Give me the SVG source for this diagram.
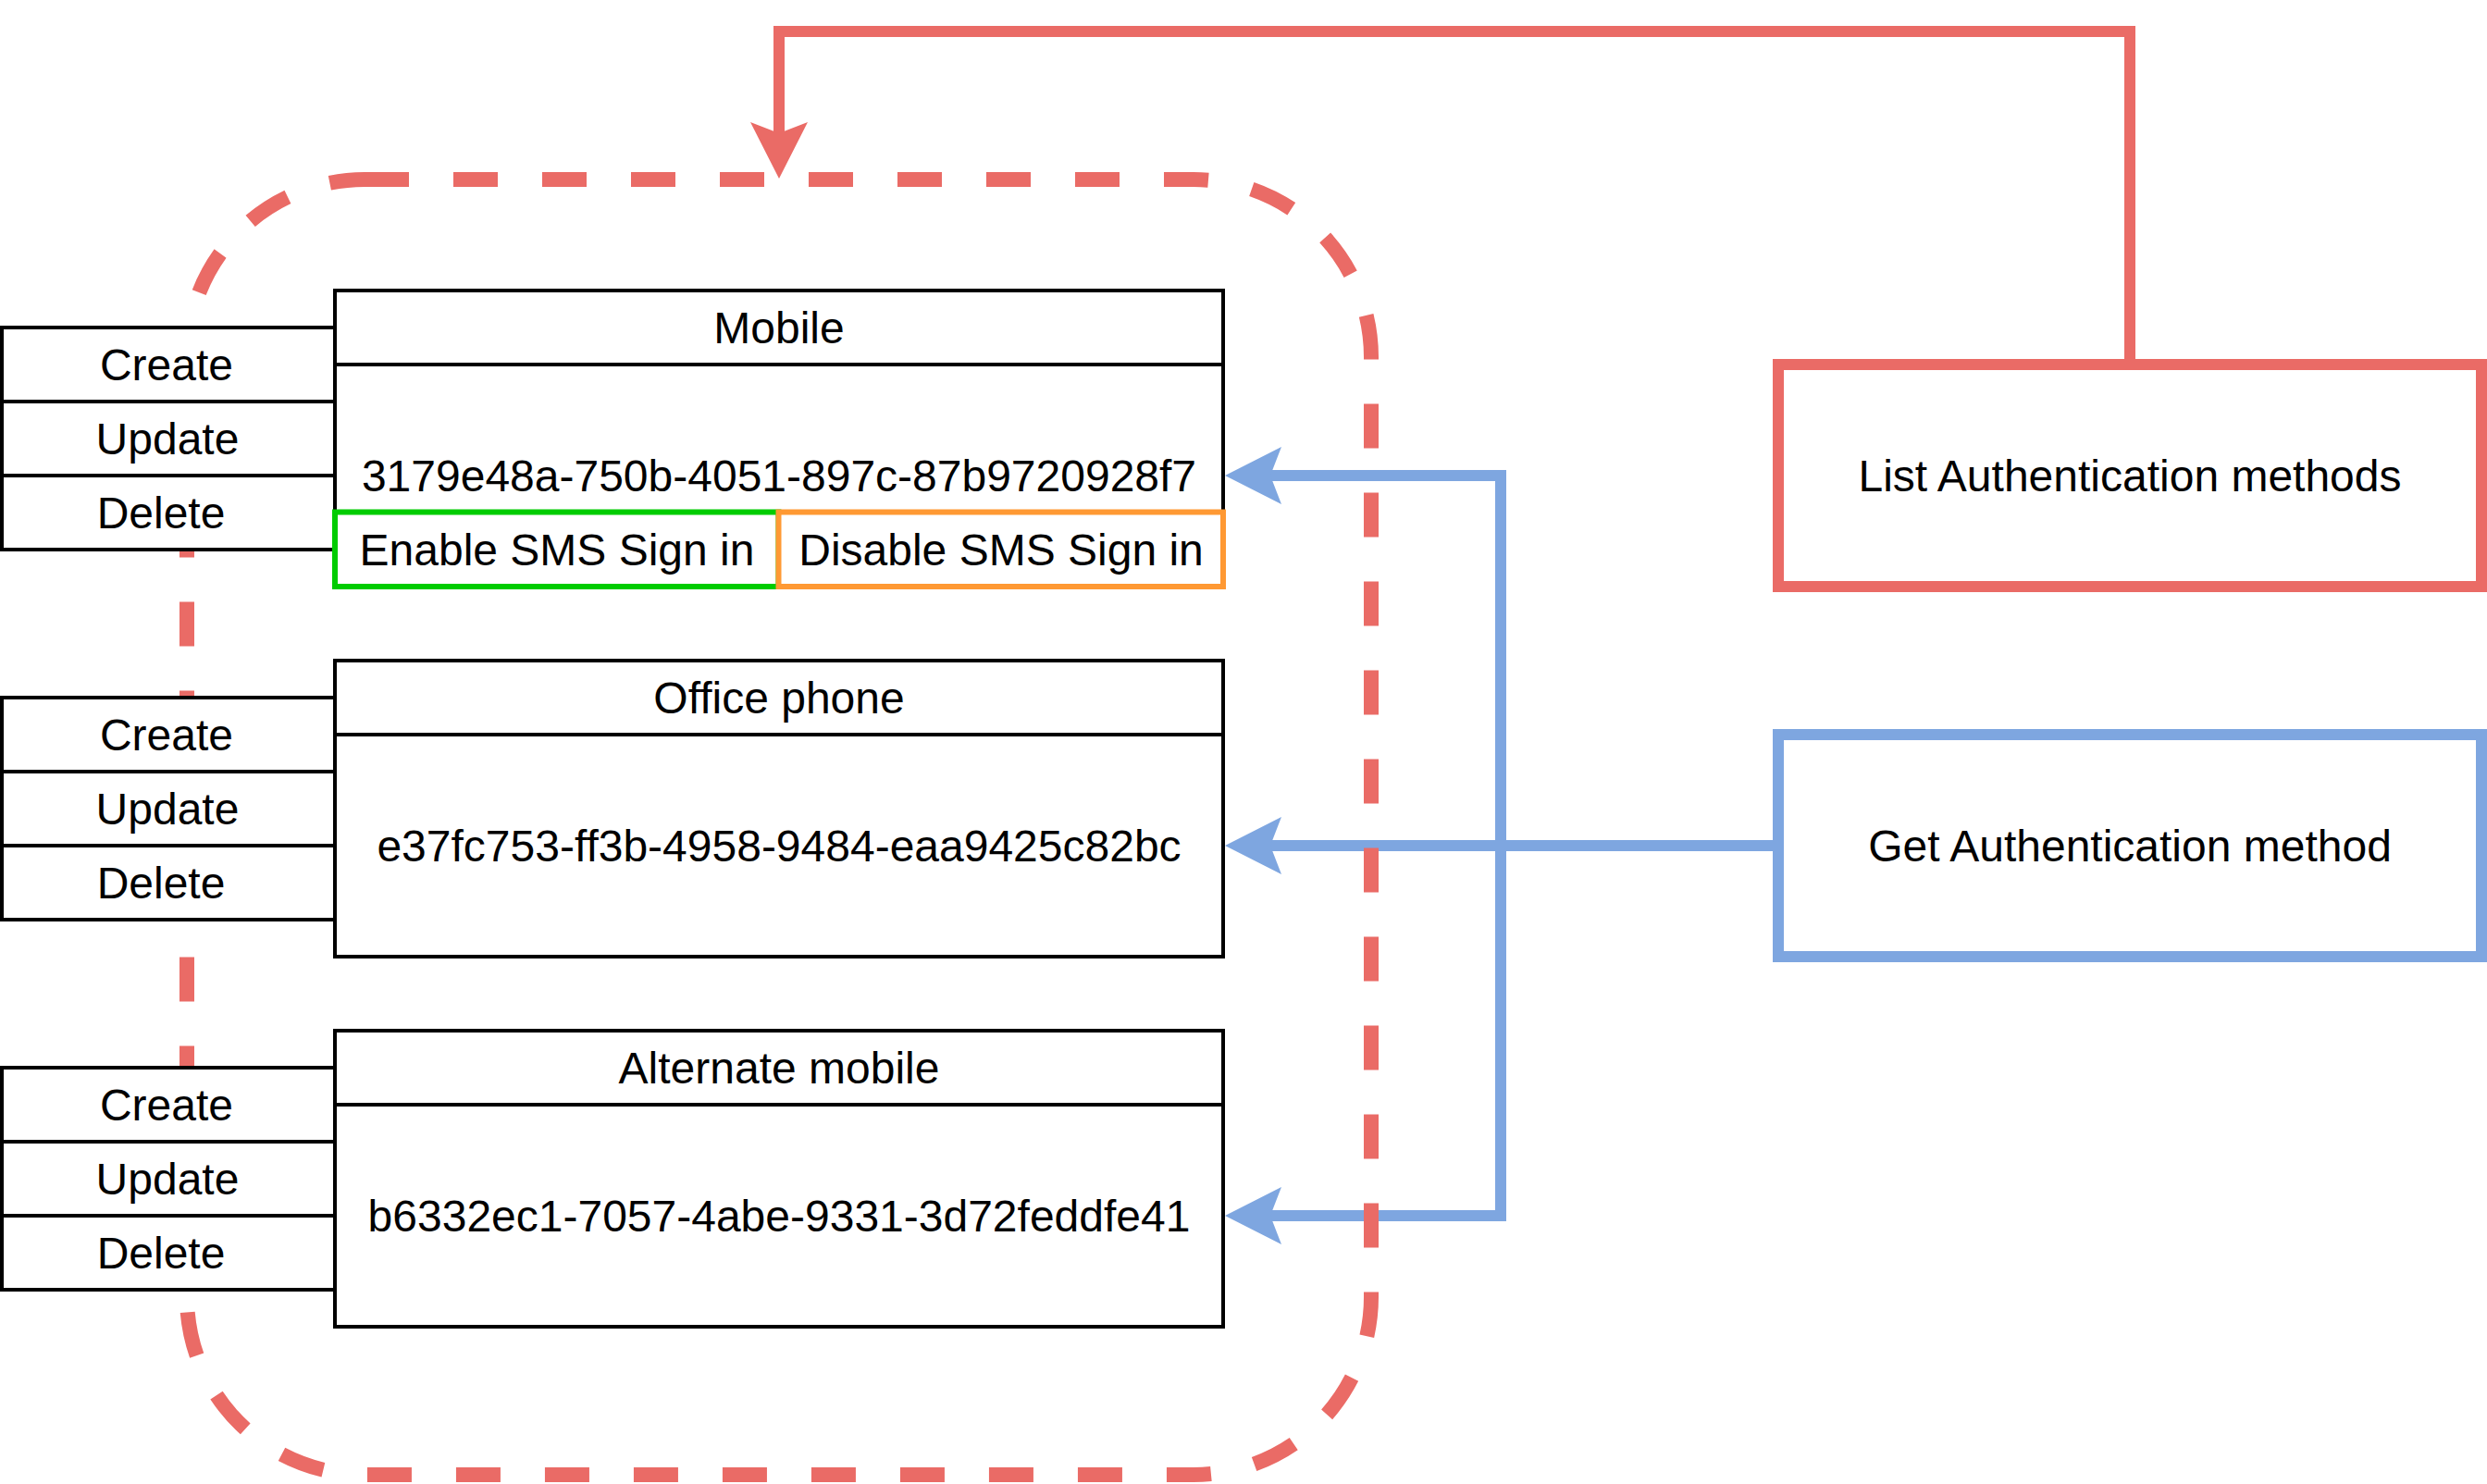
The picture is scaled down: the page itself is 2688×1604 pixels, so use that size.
<svg xmlns="http://www.w3.org/2000/svg" width="2688" height="1604" viewBox="0 0 2688 1604">
<style>
text{font-family:"Liberation Sans",Arial,Helvetica,sans-serif;font-size:48px;fill:#000;text-anchor:middle}
.box{fill:#fff;stroke:#000;stroke-width:4}
.ln{fill:none;stroke:#000;stroke-width:4}
.red{fill:none;stroke:#EA6B66;stroke-width:12}
.blue{fill:none;stroke:#7EA6E0;stroke-width:12}
.redbox{fill:#fff;stroke:#EA6B66;stroke-width:12}
.bluebox{fill:#fff;stroke:#7EA6E0;stroke-width:12}
.green{fill:#fff;stroke:#00CC00;stroke-width:6}
.orange{fill:#fff;stroke:#FF9933;stroke-width:6}
</style>
<defs>
<marker id="arrRed" viewBox="-62 -32 64 64" refX="-49" refY="0" markerWidth="64" markerHeight="64" markerUnits="userSpaceOnUse" orient="auto">
<path d="M0,0 L-61,-31 L-49,0 L-61,31 Z" fill="#EA6B66"/>
</marker>
<marker id="arrBlue" viewBox="-62 -32 64 64" refX="-49" refY="0" markerWidth="64" markerHeight="64" markerUnits="userSpaceOnUse" orient="auto">
<path d="M0,0 L-61,-31 L-49,0 L-61,31 Z" fill="#7EA6E0"/>
</marker>
</defs>
<rect width="2688" height="1604" fill="#fff"/>
<g id="connectors">
<path class="red" d="M2302,394 V34 H842 V144" marker-end="url(#arrRed)"/>
<path class="blue" d="M1922,914 H1622 V514 H1373" marker-end="url(#arrBlue)"/>
<path class="blue" d="M1922,914 H1373" marker-end="url(#arrBlue)"/>
<path class="blue" d="M1922,914 H1622 V1314 H1373" marker-end="url(#arrBlue)"/>
</g>
<g id="container">
<path d="M394,194 H1290 A192,192 0 0 1 1482,386 V1402 A192,192 0 0 1 1290,1594 H394 A192,192 0 0 1 202,1402 V386 A192,192 0 0 1 394,194 Z" fill="none" stroke="#EA6B66" stroke-width="16" stroke-dasharray="48 48"/>
</g>
<g id="mobile">
<rect class="box" x="362" y="314" width="960" height="320"/>
<line class="ln" x1="362" y1="394" x2="1322" y2="394"/>
<text x="842" y="371">Mobile</text>
<text x="842" y="531">3179e48a-750b-4051-897c-87b9720928f7</text>
</g>
<g id="mobile-crud">
<rect class="box" x="2" y="354" width="360" height="80"/>
<rect class="box" x="2" y="434" width="360" height="80"/>
<rect class="box" x="2" y="514" width="360" height="80"/>
<text x="180" y="411">Create</text>
<text x="181" y="491">Update</text>
<text x="174" y="571">Delete</text>
</g>
<g id="enable-sms">
<rect class="green" x="362" y="553.5" width="479.5" height="80.5"/>
<text x="602" y="611">Enable SMS Sign in</text>
</g>
<g id="disable-sms">
<rect class="orange" x="841.5" y="553.5" width="480.5" height="80.5"/>
<text x="1082" y="611">Disable SMS Sign in</text>
</g>
<g id="office-phone">
<rect class="box" x="362" y="714" width="960" height="320"/>
<line class="ln" x1="362" y1="794" x2="1322" y2="794"/>
<text x="842" y="771">Office phone</text>
<text x="842" y="931">e37fc753-ff3b-4958-9484-eaa9425c82bc</text>
</g>
<g id="office-crud">
<rect class="box" x="2" y="754" width="360" height="80"/>
<rect class="box" x="2" y="834" width="360" height="80"/>
<rect class="box" x="2" y="914" width="360" height="80"/>
<text x="180" y="811">Create</text>
<text x="181" y="891">Update</text>
<text x="174" y="971">Delete</text>
</g>
<g id="alternate-mobile">
<rect class="box" x="362" y="1114" width="960" height="320"/>
<line class="ln" x1="362" y1="1194" x2="1322" y2="1194"/>
<text x="842" y="1171">Alternate mobile</text>
<text x="842" y="1331">b6332ec1-7057-4abe-9331-3d72feddfe41</text>
</g>
<g id="alternate-crud">
<rect class="box" x="2" y="1154" width="360" height="80"/>
<rect class="box" x="2" y="1234" width="360" height="80"/>
<rect class="box" x="2" y="1314" width="360" height="80"/>
<text x="180" y="1211">Create</text>
<text x="181" y="1291">Update</text>
<text x="174" y="1371">Delete</text>
</g>
<g id="list-auth">
<rect class="redbox" x="1922" y="394" width="760" height="240"/>
<text x="2302" y="531">List Authentication methods</text>
</g>
<g id="get-auth">
<rect class="bluebox" x="1922" y="794" width="760" height="240"/>
<text x="2302" y="931">Get Authentication method</text>
</g>
</svg>
